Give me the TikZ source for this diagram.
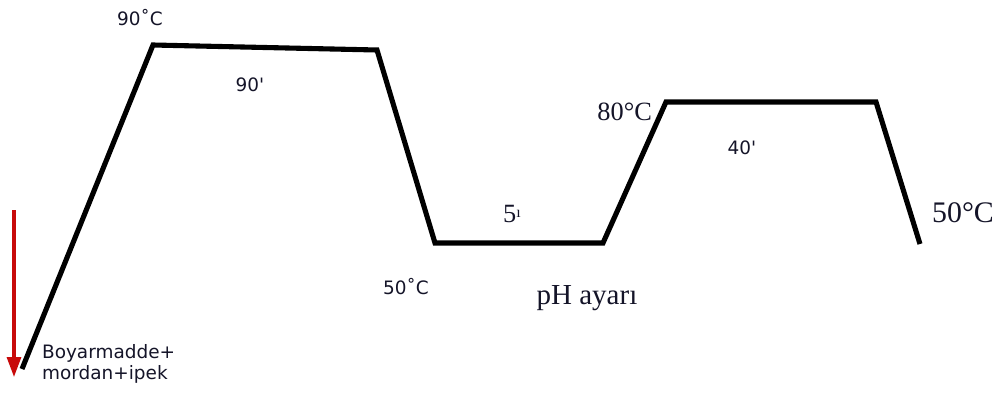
\documentclass[tikz,border=0pt]{standalone}
\usepackage{fontspec}
\setmainfont{Liberation Serif}
\newfontfamily\labelsans{DejaVu Sans}
\usepackage{tikz}
\usetikzlibrary{arrows.meta,positioning}
\definecolor{arrowred}{RGB}{200,10,10}
\definecolor{labelblue}{RGB}{20,20,40}

\begin{document}
\begin{tikzpicture}[
    x=0.02cm, y=-0.02cm,
    every node/.style={inner sep=1pt, text=labelblue},
    sanslabel/.style={font=\labelsans\fontsize{10.5}{12}\selectfont},
    seriflabel/.style={font=\fontsize{15}{17}\selectfont},
    curve/.style={line width=2.9pt, line join=miter},
    arr/.style={-{Triangle[length=4mm, width=2.8mm]}, line width=1.8pt, arrowred}
]
    \useasboundingbox (0,0) rectangle (1005,396);

    % temperature profile
    \coordinate (start) at (22,369);
    \coordinate (top1) at (153,45);
    \coordinate (top2) at (377,50);
    \coordinate (low1) at (435,243);
    \coordinate (low2) at (603,243);
    \coordinate (mid1) at (666,102);
    \coordinate (mid2) at (876,102);
    \coordinate (final) at (920,244);
    \draw[curve] (start) -- (top1) -- (top2) -- (low1) -- (low2) -- (mid1) -- (mid2) -- (final);

    % start arrow
    \coordinate (arrtop) at (14,210);
    \coordinate (arrbot) at (14,377);
    \draw[arr] (arrtop) -- (arrbot);

    \node[sanslabel] (t90) at (140,18) {90˚C};
    \node[sanslabel] (d90) at (250,85) {90'};
    \node[sanslabel] (t50a) at (406,287) {50˚C};
    \node[seriflabel] (d5) at (512,214) {5\raisebox{0.45ex}{\fontsize{9}{9}\selectfont ı}};
    \node[font=\fontsize{16.5}{19}\selectfont] (ph) at (587,298) {pH ayarı};
    \node[seriflabel, anchor=east] (t80) at (654,112) {80°C};
    \node[sanslabel] (d40) at (742,148) {40'};
    \node[font=\fontsize{17}{20}\selectfont] (t50b) at (963,213) {50°C};
    \node[sanslabel, anchor=north west, align=left] (mix) at (40,342) {Boyarmadde+\\mordan+ipek};
\end{tikzpicture}
\end{document}
